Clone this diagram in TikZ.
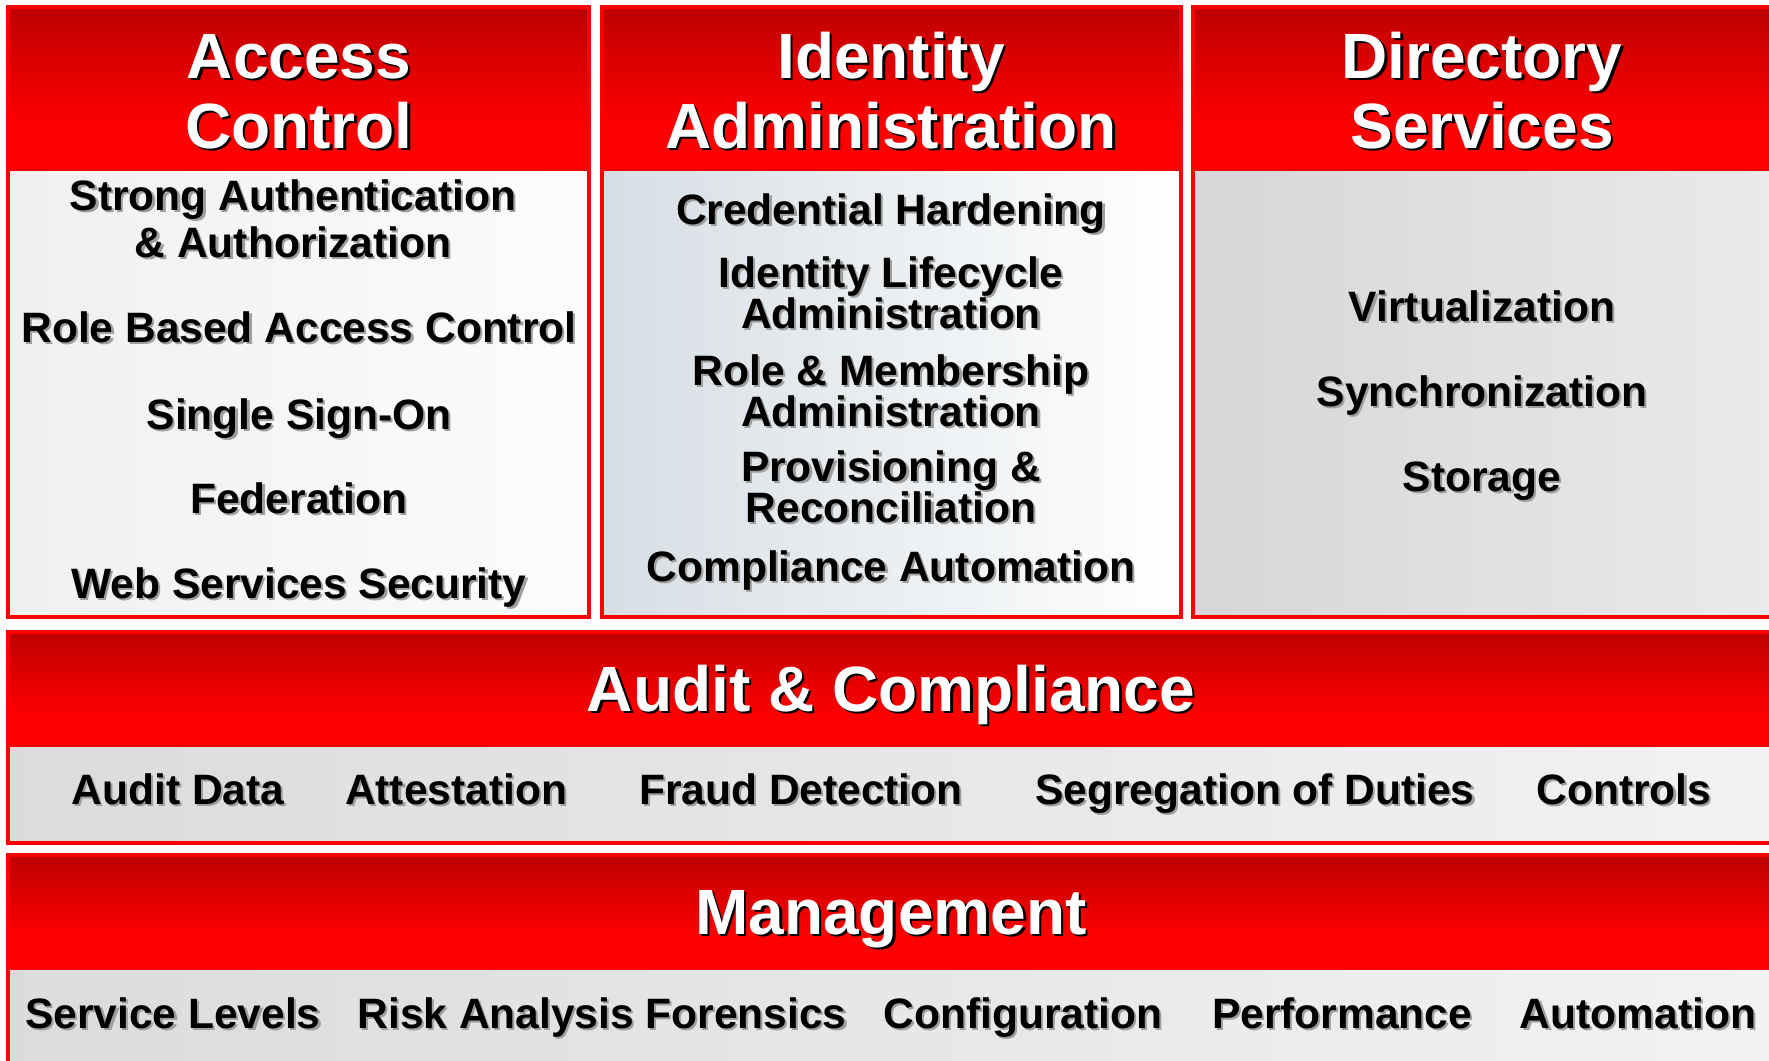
\documentclass[tikz,border=0pt]{standalone}
\usepackage{fontspec}
\setmainfont{Liberation Sans}
\definecolor{bred}{RGB}{255,0,0}
\definecolor{htop}{RGB}{190,0,0}
\definecolor{idbg}{RGB}{214,222,228}
\tikzset{
  hdr/.style={anchor=base, inner sep=0pt, text=white, align=center, font=\bfseries\fontsize{64}{64}\selectfont},
  hdrsh/.style={hdr, text=black},
  itm/.style={anchor=base, inner sep=0pt, text=black, align=center, font=\bfseries\fontsize{42.5}{34}\selectfont},
  itmsh/.style={itm, text=black!38},
  frame/.style={draw=bred, line width=4pt},
}
% multi-line nodes: the y given is the baseline of the LAST line
\newcommand\hdrtext[4]{\node[hdrsh] (#1s) at (#2+2.5,#3+2.5) {#4}; \node[hdr] (#1) at (#2,#3) {#4};}
\newcommand\itmtext[4]{\node[itmsh] (#1s) at (#2+2.2,#3+2.2) {#4}; \node[itm] (#1) at (#2,#3) {#4};}
\newcommand\headerfill[4]{% x0 x1 y0 yh
  \fill[bred] (#1,#3) rectangle (#2,#4);
  \shade[top color=htop, bottom color=bred] (#1,#3) rectangle (#2,{#3+0.72*(#4-#3)});
}
\begin{document}
\begin{tikzpicture}[x=1pt,y=-1pt]
\useasboundingbox (0,0) rectangle (1769,1060);
\clip (0,0) rectangle (1769,1060);
\fill[white] (0,0) rectangle (1769,1060);

% ---------- Access Control ----------
\headerfill{8}{589}{7}{171}
\shade[left color=black!6, right color=black!1] (8,171) rectangle (589,617);
\draw[frame] (8,7) rectangle (589,617);
% ---------- Identity Administration ----------
\headerfill{602}{1181}{7}{171}
\shade[left color=idbg, right color=white] (602,171) rectangle (1181,617);
\draw[frame] (602,7) rectangle (1181,617);
% ---------- Directory Services ----------
\headerfill{1193}{1790}{7}{171}
\shade[left color=black!16, right color=black!8] (1193,171) rectangle (1790,617);
\draw[frame] (1193,7) rectangle (1790,617);
% ---------- Audit & Compliance ----------
\headerfill{8}{1790}{632}{747}
\shade[left color=black!14, right color=black!5] (8,747) rectangle (1790,843);
\draw[frame] (8,632) rectangle (1790,843);
% ---------- Management ----------
\headerfill{8}{1790}{855}{970}
\shade[left color=black!14, right color=black!5] (8,970) rectangle (1790,1080);
\draw[frame] (8,855) rectangle (1790,1080);

% ---------- headers ----------
\hdrtext{ach}{299}{148}{Access\\[6pt]Control}
\hdrtext{iah}{891}{148}{Identity\\[6pt]Administration}
\hdrtext{dsh}{1482}{148}{Directory\\[6pt]Services}
\hdrtext{audh}{891}{711}{Audit \& Compliance}
\hdrtext{mgmth}{891}{934}{Management}

% ---------- Access Control items ----------
\itmtext{sa}{293}{257}{Strong Authentication\\[6pt]\& Authorization}
\itmtext{rbac}{299}{342}{Role Based Access Control}
\itmtext{sso}{299}{429}{Single Sign-On}
\itmtext{fed}{299}{513}{Federation}
\itmtext{wss}{299}{598}{Web Services Security}

% ---------- Identity Administration items ----------
\itmtext{ch}{891}{224}{Credential Hardening}
\itmtext{il}{891}{328}{Identity Lifecycle\\Administration}
\itmtext{rm}{891}{426}{Role \& Membership\\Administration}
\itmtext{pr}{891}{522}{Provisioning \&\\Reconciliation}
\itmtext{ca}{891}{581}{Compliance Automation}

% ---------- Directory Services items ----------
\itmtext{virt}{1482}{321}{Virtualization}
\itmtext{sync}{1482}{406}{Synchronization}
\itmtext{stor}{1482}{491}{Storage}

% ---------- Audit items ----------
\itmtext{ad}{178}{804}{Audit Data}
\itmtext{att}{456}{804}{Attestation}
\itmtext{fd}{801}{804}{Fraud Detection}
\itmtext{sod}{1255}{804}{Segregation of Duties}
\itmtext{ctl}{1624}{804}{Controls}

% ---------- Management items ----------
\itmtext{sl}{173}{1028}{Service Levels}
\itmtext{raf}{602}{1028}{Risk Analysis Forensics}
\itmtext{cfg}{1023}{1028}{Configuration}
\itmtext{perf}{1342}{1028}{Performance}
\itmtext{auto}{1638}{1028}{Automation}
\end{tikzpicture}
\end{document}
